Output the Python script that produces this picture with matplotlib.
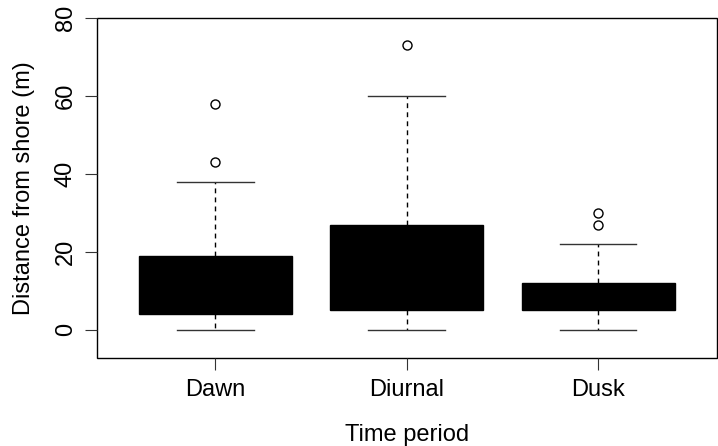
import matplotlib
matplotlib.use("Agg")
import matplotlib.pyplot as plt

plt.rcParams['font.family'] = ['Liberation Sans', 'DejaVu Sans']

# Boxplot summary
periods = ["Dawn", "Diurnal", "Dusk"]
q1 = [4, 5, 5]
q3 = [19, 27, 12]
medians = [9, 13, 7]
wlo = [0, 0, 0]
whi = [38, 60, 22]
fliers = [[43, 58], [73], [27, 30]]

stats = []
for i in range(len(periods)):
    stats.append(dict(label=periods[i], q1=q1[i], q3=q3[i], med=medians[i],
                      whislo=wlo[i], whishi=whi[i], fliers=fliers[i]))

fig = plt.figure(figsize=(7.18, 4.46), dpi=100)
ax = fig.add_axes([96.7/718, 1-358/446, (716.7-96.7)/718, (358-18)/446])

ax.bxp(stats, positions=[1, 2, 3], widths=0.8, patch_artist=True,
       boxprops=dict(facecolor="black", edgecolor="black", linewidth=1),
       medianprops=dict(color="black", linewidth=2),
       whiskerprops=dict(color="black", linestyle=(0, (3.5, 3)), linewidth=1),
       capprops=dict(color="#333333", linewidth=1), capwidths=0.4,
       flierprops=dict(marker="o", markerfacecolor="white", markeredgecolor="black",
                       markersize=6.5, markeredgewidth=1))

ax.set_xlim(0.38, 3.62)
ax.set_ylim(-7.2, 80)
ax.set_yticks([0, 20, 40, 60, 80])
ax.set_xticks([1, 2, 3])
ax.set_xticklabels(periods)
for lbl in ax.get_yticklabels():
    lbl.set_rotation(90)
    lbl.set_va("center")
ax.tick_params(length=8.4, width=0.8, labelsize=17, color="#333333")
ax.tick_params(axis="x", pad=6.5)
ax.tick_params(axis="y", pad=6)

# R-style box frame instead of spines
for s in ax.spines.values():
    s.set_visible(False)
ax.patch.set_visible(False)
frame = plt.Rectangle((0, 0), 1, 1, transform=ax.transAxes, fill=False,
                      edgecolor="black", linewidth=1, clip_on=False)
ax.add_patch(frame)

ax.set_xlabel("Time period", fontsize=17, labelpad=17)
ax.set_ylabel("Distance from shore (m)", fontsize=17, labelpad=14)

fig.savefig("out.png", dpi=100)
